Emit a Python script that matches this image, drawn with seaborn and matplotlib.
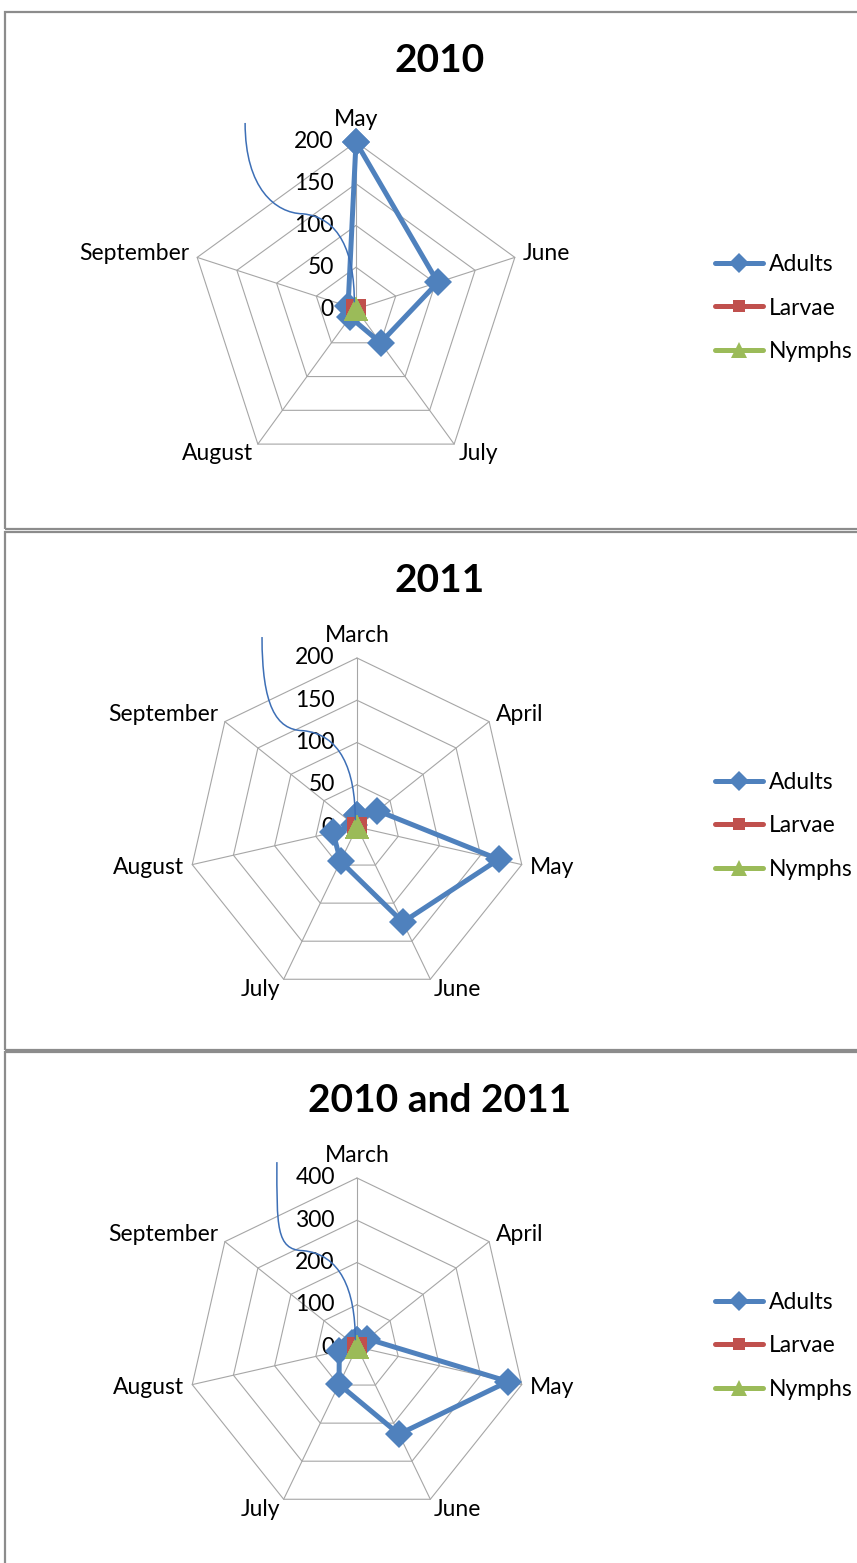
import numpy as np
import matplotlib
matplotlib.use("Agg")
import matplotlib.pyplot as plt
import seaborn as sns
from matplotlib.patches import Rectangle, PathPatch
from matplotlib.path import Path
from matplotlib.lines import Line2D

sns.set_style("white")
plt.rcParams['font.family'] = ['Lato', 'DejaVu Sans']
plt.rcParams['text.color'] = 'black'

# data
months_2010 = ["May", "June", "July", "August", "September"]
adults_2010 = [200, 103, 50, 12, 10]
larvae_2010 = [0, 0, 0, 0, 0]
nymphs_2010 = [0, 0, 0, 0, 0]

months_2011 = ["March", "April", "May", "June", "July", "August", "September"]
adults_2011 = [14, 31, 172, 125, 45, 29, 4]
larvae_2011 = [0, 0, 0, 0, 0, 0, 0]
nymphs_2011 = [0, 0, 0, 0, 0, 0, 0]

months_both = ["March", "April", "May", "June", "July", "August", "September"]
adults_both = [16, 31, 367, 229, 98, 43, 14]
larvae_both = [0, 0, 0, 0, 0, 0, 0]
nymphs_both = [0, 0, 0, 0, 0, 0, 0]

series_names = ["Adults", "Larvae", "Nymphs"]
colors = ["#4F81BD", "#C0504D", "#9BBB59"]
markers = ["D", "s", "^"]
marker_sizes = [14, 15, 17]
legend_marker_sizes = [10, 9, 11]
FS = 16.5

W, H = 857, 1563
fig = plt.figure(figsize=(W / 100, H / 100), dpi=100)

# panel frames (Excel chart areas)
for top, bottom in [(12, 529), (532, 1050), (1052, 1580)]:
    fig.add_artist(Rectangle((5 / W, 1 - bottom / H), 1.0, (bottom - top) / H,
                             transform=fig.transFigure, fill=False,
                             edgecolor="#8c8c8c", lw=1.6))


def radar(cx, cy, R, title, ty, cats, values, rmax, step, curve_start):
    ax = fig.add_axes([(cx - R) / W, 1 - (cy + R) / H, 2 * R / W, 2 * R / H],
                      projection="polar")
    ax.set_theta_zero_location("N")
    ax.set_theta_direction(-1)
    ax.set_xticks([])
    ax.set_yticks([])
    ax.grid(False)
    ax.spines["polar"].set_visible(False)
    ax.patch.set_alpha(0)

    n = len(cats)
    theta = np.linspace(0, 2 * np.pi, n, endpoint=False)
    tc = np.append(theta, 2 * np.pi)
    levels = np.arange(0, rmax + step, step)

    # polygon gridlines and spokes
    for lv in levels[1:]:
        ax.plot(tc, [lv] * (n + 1), color="#a6a6a6", lw=0.8, zorder=1, clip_on=False)
    for t in theta:
        ax.plot([t, t], [0, rmax], color="#a6a6a6", lw=0.8, zorder=1, clip_on=False)

    # value labels
    for lv in levels:
        ax.annotate(f"{lv:g}", xy=(0, lv), xytext=(-16, 0), textcoords="offset points",
                    ha="right", va="center", fontsize=FS, annotation_clip=False)

    # category labels
    for t, c in zip(theta, cats):
        s, co = np.sin(t), np.cos(t)
        if abs(s) < 0.1:
            ha, va, off = "center", "bottom", (0, 9)
        else:
            ha = "left" if s > 0 else "right"
            va, off = "center", (6 * s, 8.5 * co)
        ax.annotate(c, xy=(t, rmax), xytext=off, textcoords="offset points",
                    ha=ha, va=va, fontsize=FS, annotation_clip=False)

    for vals, col, mk, ms in zip(values, colors, markers, marker_sizes):
        sns.lineplot(x=tc, y=np.append(vals, vals[0]), ax=ax, sort=False,
                     estimator=None, color=col, linewidth=3.6, marker=mk,
                     markersize=ms, markeredgewidth=0, clip_on=False, zorder=3)
    ax.set_ylim(0, rmax)
    ax.set_xlabel("")
    ax.set_ylabel("")

    # thin connector curve left over in the original
    sx, sy = curve_start
    verts = [(sx, sy), (sx, 0.86), (0.26, 0.787), (0.34, 0.785),
             (0.45, 0.775), (0.495, 0.67), (0.495, 0.52)]
    codes = [Path.MOVETO] + [Path.CURVE4] * 6
    ax.add_patch(PathPatch(Path(verts, codes), transform=ax.transAxes, fill=False,
                           edgecolor="#3d6fb6", lw=1.1, clip_on=False, zorder=4))

    fig.text(440 / W, 1 - ty / H, title, ha="center", va="center",
             fontsize=28, fontweight="bold")

    handles = [Line2D([], [], color=col, lw=3.6, marker=mk, markersize=ms,
                      markeredgewidth=0)
               for col, mk, ms in zip(colors, markers, legend_marker_sizes)]
    fig.legend(handles, series_names, loc="center left",
               bbox_to_anchor=(715 / W, 1 - (cy - 1) / H), frameon=False, fontsize=FS,
               handlelength=2.1, handletextpad=0.25, labelspacing=0.97,
               borderpad=0, borderaxespad=0, numpoints=1)


radar(356, 309, 167, "2010", 60, months_2010,
      [adults_2010, larvae_2010, nymphs_2010], 200, 50, (0.168, 1.057))
radar(357, 827, 169, "2011", 580, months_2011,
      [adults_2011, larvae_2011, nymphs_2011], 200, 50, (0.219, 1.062))
radar(357, 1347, 169, "2010 and 2011", 1100, months_both,
      [adults_both, larvae_both, nymphs_both], 400, 100, (0.263, 1.047))

fig.savefig("out.png", dpi=100)
